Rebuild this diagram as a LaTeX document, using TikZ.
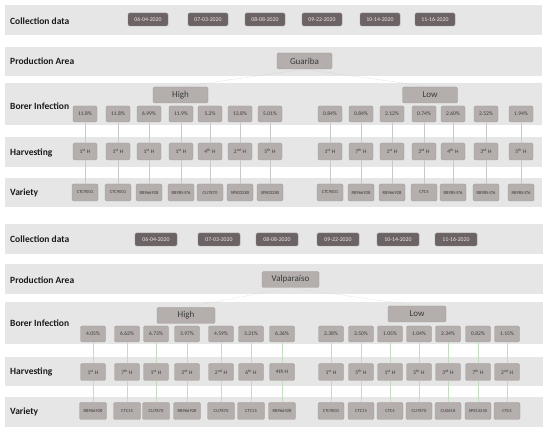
\documentclass[tikz,border=0pt]{standalone}
\usepackage{fontspec}
\setmainfont{Carlito}
\definecolor{bandgray}{HTML}{E6E6E6}
\definecolor{dategray}{HTML}{6C6365}
\definecolor{dateedge}{HTML}{8E8688}
\definecolor{datetext}{HTML}{EDE6E6}
\definecolor{boxgray}{HTML}{B4AFAD}
\definecolor{boxedge}{HTML}{A39D9B}
\definecolor{boxtext}{HTML}{3A3A3A}
\definecolor{labtext}{HTML}{1A1A1A}
\definecolor{lineA}{HTML}{C9C9C9}
\definecolor{lineB}{HTML}{C4DCC0}
\newcommand\hsup[2]{#1\textsuperscript{#2}}
\begin{document}
\begin{tikzpicture}[x=1pt,y=-1pt,
  band/.style={fill=bandgray,draw=none},
  lab/.style={anchor=west,font=\bfseries\fontsize{9.5}{10}\selectfont,text=labtext,inner sep=0pt},
  datebox/.style={fill=dategray,draw=dateedge,line width=0.4pt,rounded corners=1.5pt,text=datetext,font=\fontsize{5.8}{6}\selectfont,minimum width=40pt,minimum height=13pt,inner sep=1pt},
  lbox/.style={fill=boxgray,draw=boxedge,line width=0.4pt,rounded corners=1.5pt,text=boxtext,inner sep=1pt},
  pct/.style={lbox,minimum width=24pt,minimum height=16pt,font=\fontsize{5.5}{6}\selectfont},
  hbox/.style={lbox,minimum width=24pt,minimum height=17pt,font=\fontsize{5.5}{6}\selectfont},
  vbox/.style={lbox,minimum width=26pt,minimum height=17pt,font=\fontsize{4.6}{5}\selectfont},
  lvl/.style={lbox,minimum width=55pt,minimum height=16pt,font=\fontsize{9}{10}\selectfont},
  connA/.style={draw=lineA,line width=0.5pt},
  connB/.style={draw=lineB,line width=0.5pt},
  treeA/.style={draw=lineA,line width=0.5pt,densely dotted},
  treeB/.style={draw=lineB,line width=0.5pt,densely dotted}]
\useasboundingbox (0,0) rectangle (550,433);
% ---------- top panel bands ----------
\fill[band] (5,5) rectangle (542,35);
\fill[band] (5,47) rectangle (542,76);
\fill[band] (5,83) rectangle (542,125);
\fill[band] (5,137) rectangle (542,167);
\fill[band] (5,178) rectangle (542,207);
% ---------- bottom panel bands ----------
\fill[band] (5,224) rectangle (543,254);
\fill[band] (5,264) rectangle (543,294);
\fill[band] (5,302) rectangle (543,344);
\fill[band] (5,357) rectangle (543,386);
\fill[band] (5,397) rectangle (543,427);
% ---------- labels ----------
\node[lab] (lt1) at (10,21) {Collection data};
\node[lab] (lt2) at (10,61) {Production Area};
\node[lab] (lt3) at (10,106) {Borer Infection};
\node[lab] (lt4) at (10,153) {Harvesting};
\node[lab] (lt5) at (10,193) {Variety};
\node[lab] (lb1) at (10,239) {Collection data};
\node[lab] (lb2) at (10,280) {Production Area};
\node[lab] (lb3) at (10,323) {Borer Infection};
\node[lab] (lb4) at (10,372) {Harvesting};
\node[lab] (lb5) at (10,412) {Variety};
% ---------- dates ----------
\foreach \i/\x/\d in {1/148/06-04-2020,2/208/07-03-2020,3/265/08-08-2020,4/322/09-22-2020,5/380/10-14-2020,6/435/11-16-2020}
  \node[datebox] (dt\i) at (\x,19.5) {\d};
\foreach \i/\x/\d in {1/156/06-04-2020,2/219/07-03-2020,3/277/08-08-2020,4/338/09-22-2020,5/398/10-14-2020,6/456/11-16-2020}
  \node[datebox,minimum width=42pt] (db\i) at (\x,239.5) {\d};
% ---------- top tree ----------
\node[lvl] (guariba) at (304.5,61) {Guariba};
\node[lvl] (thigh) at (180.5,95) {High};
\node[lvl] (tlow) at (430,95) {Low};
\draw[treeA] (guariba.south) -- (thigh.north);
\draw[treeA] (guariba.south) -- (tlow.north);
\foreach \i/\x/\p/\h/\v in {
  1/85/11.8/{\hsup{1}{st}}/CTC9001,
  2/118/11.8/{\hsup{1}{st}}/CTC9001,
  3/149/6.99/{\hsup{1}{st}}/RB966928,
  4/181/11.9/{\hsup{1}{st}}/RB985476,
  5/210/5.2/{\hsup{4}{th}}/CU7870,
  6/240/13.8/{\hsup{2}{nd}}/SP803280,
  7/270/5.01/{\hsup{5}{th}}/SP803280}{
  \node[pct] (tlp\i) at (\x,114) {\p\%};
  \node[hbox] (tlh\i) at (\x,151.5) {\h\ H};
  \node[vbox] (tlv\i) at (\x,192.5) {\v};
  \draw[connA] (tlp\i) -- (tlh\i);
  \draw[connA] (tlh\i) -- (tlv\i);
}
\foreach \i/\x/\p/\h/\v in {
  1/330/0.84/{\hsup{1}{st}}/CTC9001,
  2/361/0.84/{\hsup{7}{th}}/RB966928,
  3/392/2.12/{\hsup{1}{st}}/RB966928,
  4/424/0.74/{\hsup{3}{rd}}/CTC4,
  5/453/2.60/{\hsup{4}{th}}/RB985476,
  6/486/2.52/{\hsup{3}{rd}}/RB985476,
  7/521/1.94/{\hsup{5}{th}}/RB985476}{
  \node[pct] (trp\i) at (\x,114) {\p\%};
  \node[hbox] (trh\i) at (\x,151.5) {\h\ H};
  \node[vbox] (trv\i) at (\x,192.5) {\v};
  \draw[connA] (trp\i) -- (trh\i);
  \draw[connA] (trh\i) -- (trv\i);
}
% ---------- bottom tree ----------
\node[lvl,minimum width=57pt] (valpo) at (290.5,279.5) {Valparaíso};
\node[lvl,minimum width=58pt] (bhigh) at (186,315.5) {High};
\node[lvl,minimum width=58pt] (blow) at (417,314) {Low};
\draw[treeB] (valpo.south) -- (bhigh.north);
\draw[treeB] (valpo.south) -- (blow.north);
\foreach \i/\x/\p/\h/\v in {
  1/93/4.05/{\hsup{1}{st}}/RB966928,
  2/127/6.62/{\hsup{7}{th}}/CTC15,
  3/156/6.73/{\hsup{1}{st}}/CU7870,
  4/187/3.97/{\hsup{3}{rd}}/RB966928,
  5/221/4.59/{\hsup{2}{nd}}/CU7870,
  6/251/3.21/{\hsup{6}{th}}/CTC15,
  7/282/6.36/{4th}/RB966928}{
  \node[pct,minimum width=25pt] (blp\i) at (\x,334) {\p\%};
  \node[hbox,minimum width=25pt] (blh\i) at (\x,372) {\h\ H};
  \node[vbox,minimum width=27pt] (blv\i) at (\x,411) {\v};
  \draw[connB] (blp\i) -- (blh\i);
  \draw[connB] (blh\i) -- (blv\i);
}
\foreach \i/\x/\p/\h/\v in {
  1/331/2.38/{\hsup{1}{st}}/CTC9001,
  2/361/3.50/{\hsup{5}{th}}/CTC15,
  3/390/1.05/{\hsup{1}{st}}/CTC4,
  4/419/1.04/{\hsup{5}{th}}/CU7870,
  5/448/2.34/{\hsup{3}{rd}}/CU0618,
  6/478/0.82/{\hsup{7}{th}}/SP813250,
  7/507/1.15/{\hsup{2}{nd}}/CTC4}{
  \node[pct,minimum width=25pt] (brp\i) at (\x,334) {\p\%};
  \node[hbox,minimum width=25pt] (brh\i) at (\x,372) {\h\ H};
  \node[vbox,minimum width=26pt] (brv\i) at (\x,411) {\v};
  \draw[connB] (brp\i) -- (brh\i);
  \draw[connB] (brh\i) -- (brv\i);
}
\end{tikzpicture}
\end{document}
